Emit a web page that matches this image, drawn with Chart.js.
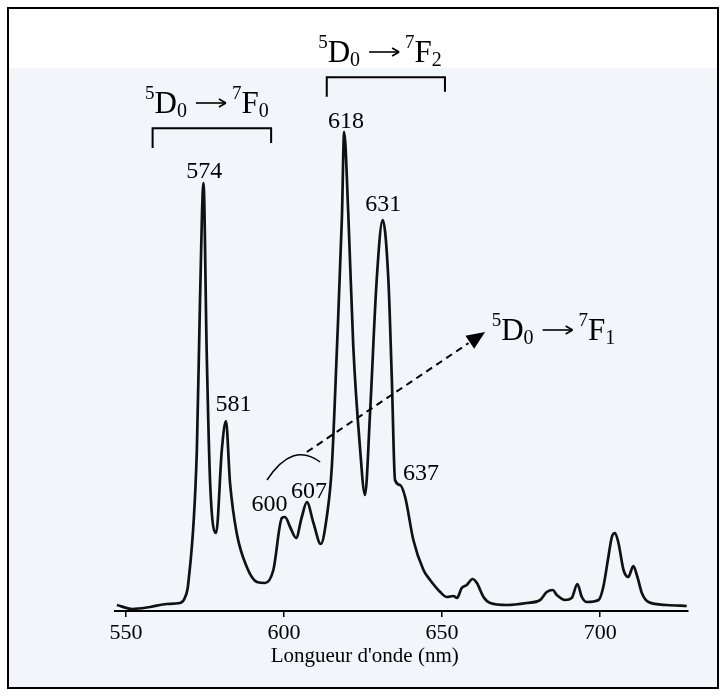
<!DOCTYPE html>
<html>
<head>
<meta charset="utf-8">
<script src="https://cdn.jsdelivr.net/npm/chart.js@4.4.1/dist/chart.umd.min.js"></script>
<style>
  body { margin: 0; background: #fff; }
  canvas { display: block; }
</style>
</head>
<body>
<canvas id="spectre" width="728" height="697"></canvas>
<script>
// spectre d'emission (longueur d'onde en nm, intensite en unites arbitraires)
const wavelength = [547.1, 552.0, 557.6, 562.9, 567.1, 568.7, 569.7, 572.4, 573.4, 574.5,
  575.5, 576.6, 578.5, 580.3, 581.6, 582.9, 585.0, 588.2, 591.4, 594.0,
  596.6, 599.3, 600.3, 601.9, 603.8, 605.6, 607.2, 609.3, 611.6, 613.5,
  615.1, 616.7, 618.3, 619.0, 620.3, 621.9, 624.0, 625.6, 627.2, 629.3,
  631.2, 633.0, 634.1, 635.1, 636.7, 638.3, 640.9, 644.1, 646.2, 649.4,
  651.5, 653.6, 654.7, 656.2, 657.8, 659.6, 661.0, 663.1, 665.2, 670.5,
  676.8, 681.0, 683.1, 685.0, 686.3, 688.9, 691.0, 692.8, 694.2, 695.8,
  699.5, 701.0, 702.6, 703.7, 704.7, 705.8, 707.4, 708.9, 710.5, 711.8,
  713.2, 715.3, 721.1, 727.4];
const intensity = [6, 2, 4, 7, 8, 14, 28, 161, 311, 428,
  261, 128, 78, 161, 190, 128, 78, 44, 29, 28,
  41, 93, 94, 84, 73, 94, 109, 88, 67, 94,
  144, 261, 394, 479, 398, 264, 164, 116, 198, 331,
  391, 331, 231, 131, 126, 114, 71, 41, 31, 19,
  14, 15, 13, 23, 26, 32, 28, 14, 8, 6,
  8, 11, 19, 21, 16, 11, 13, 27, 14, 9,
  11, 24, 54, 74, 78, 68, 41, 34, 45, 34,
  18, 9, 6, 5];

const xTicks = [550, 600, 650, 700];
const xTitle = "Longueur d'onde (nm)";

// etiquettes des pics
const peakLabels = ['574', '581', '600', '607', '618', '631', '637'];
const peakLabelNm = [574.7, 584.0, 595.4, 607.9, 619.6, 631.4, 643.3];
const peakLabelI = [433, 200, 100, 113, 483, 400, 131];

// transitions 5D0 -> 7FJ
const transitionJ = ['0', '2', '1'];
const transitionNm = [556.0, 610.8, 665.7];
const transitionI = [498, 549, 271];

// crochets (debut, fin, haut, bas gauche, bas droite)
const bracketStart = [558.4, 613.5];
const bracketEnd = [595.9, 650.9];
const bracketTop = [482.7, 533.7];
const bracketLeftBottom = [463, 514.3];
const bracketRightBottom = [468, 519.3];

// arc + fleche pointillee vers 5D0 -> 7F1
const arcNm = [594.6, 602.7, 611.4];
const arcI = [131, 170, 149];
const arrowNm = [607.2, 663.6];
const arrowI = [159, 279];

const serif = '"Liberation Serif", "Times New Roman", serif';

function text(ctx, t, size, x, y) {
  ctx.font = size + 'px ' + serif;
  ctx.fillText(t, x, y);
  return ctx.measureText(t).width;
}

function drawTransition(ctx, x, y, j) {
  ctx.textAlign = 'left';
  ctx.textBaseline = 'alphabetic';
  let cx = x;
  cx += text(ctx, '5', 19, cx, y - 14);
  cx += text(ctx, 'D', 31, cx, y);
  cx += text(ctx, '0', 20, cx, y + 4);
  // fleche de transition
  cx += 9;
  const ay = y - 10;
  ctx.lineWidth = 1.6;
  ctx.beginPath();
  ctx.moveTo(cx, ay);
  ctx.lineTo(cx + 29, ay);
  ctx.stroke();
  ctx.beginPath();
  ctx.moveTo(cx + 30, ay);
  ctx.lineTo(cx + 23, ay - 4);
  ctx.moveTo(cx + 30, ay);
  ctx.lineTo(cx + 23, ay + 4);
  ctx.stroke();
  cx += 36;
  cx += text(ctx, '7', 19, cx, y - 14);
  cx += text(ctx, 'F', 31, cx, y);
  text(ctx, j, 20, cx, y + 4);
}

const annotations = {
  id: 'annotations',
  beforeDraw(chart) {
    const ctx = chart.ctx;
    ctx.save();
    ctx.fillStyle = '#ffffff';
    ctx.fillRect(0, 0, chart.width, chart.height);
    ctx.fillStyle = '#f2f5fa';
    ctx.fillRect(9, 68, 708, 619);
    ctx.restore();
  },
  afterDraw(chart) {
    const ctx = chart.ctx;
    const xs = chart.scales.x;
    const ys = chart.scales.y;
    const px = (v) => xs.getPixelForValue(v);
    const py = (v) => ys.getPixelForValue(v);
    ctx.save();
    ctx.fillStyle = '#000';
    ctx.strokeStyle = '#000';

    // cadre
    ctx.lineWidth = 2;
    ctx.strokeRect(8, 8, 710, 680);

    // titre de l'axe
    ctx.font = '21px ' + serif;
    ctx.textAlign = 'center';
    ctx.textBaseline = 'alphabetic';
    ctx.fillText(xTitle, px(625.5), 662);

    // etiquettes des pics
    ctx.font = '24px ' + serif;
    peakLabels.forEach((lab, i) => {
      ctx.fillText(lab, px(peakLabelNm[i]), py(peakLabelI[i]));
    });

    // transitions
    transitionJ.forEach((j, i) => {
      drawTransition(ctx, px(transitionNm[i]), py(transitionI[i]), j);
    });

    // crochets
    ctx.lineWidth = 2;
    bracketStart.forEach((s, i) => {
      ctx.beginPath();
      ctx.moveTo(px(s), py(bracketLeftBottom[i]));
      ctx.lineTo(px(s), py(bracketTop[i]));
      ctx.lineTo(px(bracketEnd[i]), py(bracketTop[i]));
      ctx.lineTo(px(bracketEnd[i]), py(bracketRightBottom[i]));
      ctx.stroke();
    });

    // arc
    ctx.lineWidth = 1.5;
    ctx.beginPath();
    ctx.moveTo(px(arcNm[0]), py(arcI[0]));
    ctx.quadraticCurveTo(px(arcNm[1]), py(arcI[1]), px(arcNm[2]), py(arcI[2]));
    ctx.stroke();

    // fleche pointillee
    const x0 = px(arrowNm[0]), y0 = py(arrowI[0]);
    const x1 = px(arrowNm[1]), y1 = py(arrowI[1]);
    const ang = Math.atan2(y1 - y0, x1 - x0);
    const head = 20;
    ctx.setLineDash([7, 5]);
    ctx.lineWidth = 2;
    ctx.beginPath();
    ctx.moveTo(x0, y0);
    ctx.lineTo(x1 - head * Math.cos(ang), y1 - head * Math.sin(ang));
    ctx.stroke();
    ctx.setLineDash([]);
    ctx.beginPath();
    ctx.moveTo(x1, y1);
    ctx.lineTo(x1 - head * Math.cos(ang - 0.4), y1 - head * Math.sin(ang - 0.4));
    ctx.lineTo(x1 - head * Math.cos(ang + 0.4), y1 - head * Math.sin(ang + 0.4));
    ctx.closePath();
    ctx.fill();

    ctx.restore();
  },
};

const ctx = document.getElementById('spectre');
new Chart(ctx, {
  type: 'line',
  data: {
    datasets: [
      {
        data: wavelength.map((w, i) => ({ x: w, y: intensity[i] })),
        borderColor: '#111',
        borderWidth: 2.7,
        pointRadius: 0,
        cubicInterpolationMode: 'monotone',
        fill: false,
      },
    ],
  },
  options: {
    responsive: false,
    animation: false,
    layout: { padding: { left: 115, right: 40, top: 20, bottom: 0 } },
    plugins: {
      legend: { display: false },
      tooltip: { enabled: false },
    },
    scales: {
      x: {
        type: 'linear',
        min: 546.5,
        max: 727.8,
        afterBuildTicks: (scale) => {
          scale.ticks = xTicks.map((v) => ({ value: v }));
        },
        afterFit: (scale) => {
          scale.height = 86;
        },
        grid: { drawOnChartArea: false, drawTicks: true, tickLength: 6, color: '#000', lineWidth: 1.5 },
        border: { display: true, color: '#000', width: 2 },
        ticks: {
          color: '#000',
          padding: 3,
          maxRotation: 0,
          font: { family: serif, size: 22 },
        },
      },
      y: {
        display: false,
        min: 0,
        max: 591,
      },
    },
  },
  plugins: [annotations],
});
</script>
</body>
</html>
